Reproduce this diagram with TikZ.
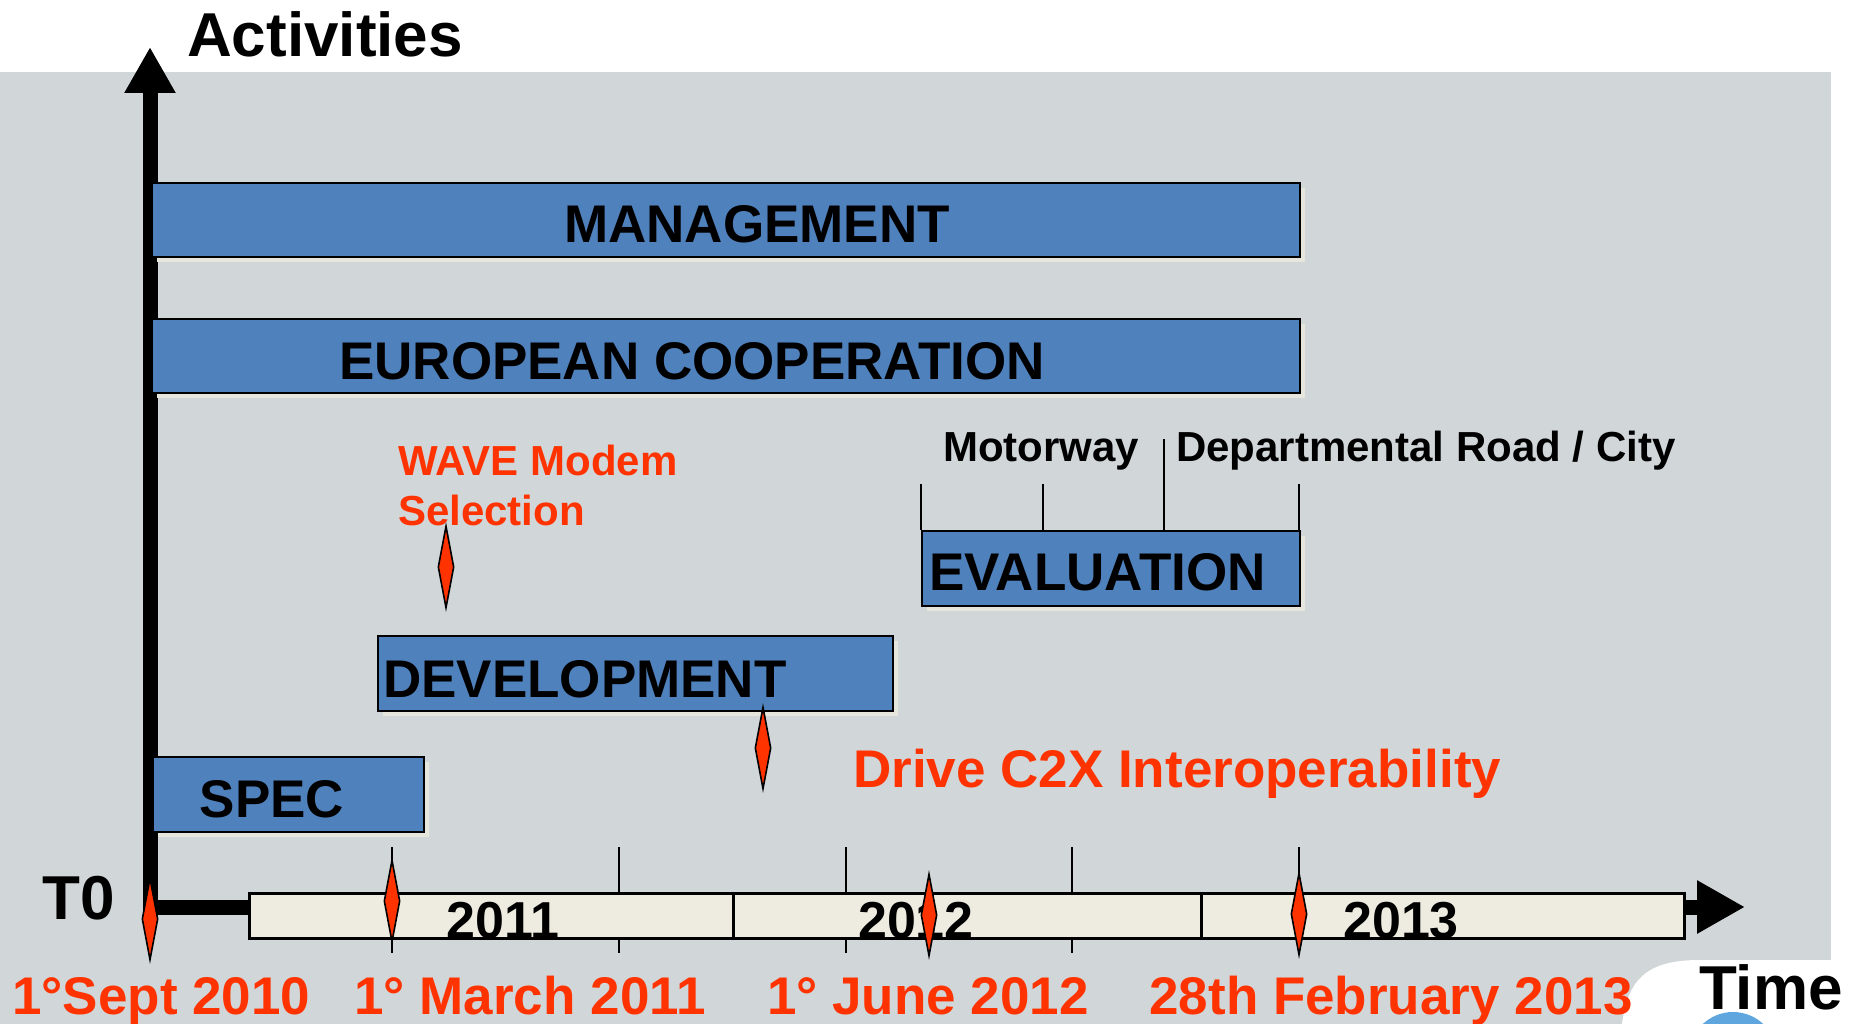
\documentclass[tikz,border=0pt]{standalone}
\usepackage{fontspec}
\setmainfont{Liberation Sans}
\usepackage{tikz}
\usetikzlibrary{arrows.meta,shapes.geometric,shadows}
\definecolor{panelGray}{RGB}{209,214,217}
\definecolor{barBlue}{RGB}{79,129,189}
\definecolor{milestoneRed}{RGB}{255,51,0}
\definecolor{yearCream}{RGB}{238,236,225}
\definecolor{shadowTint}{RGB}{230,230,220}
\definecolor{globeBlue}{RGB}{96,166,222}
\newcommand\barfont{\bfseries\fontsize{53}{60}\selectfont}
\newcommand\yearfont{\bfseries\fontsize{52}{60}\selectfont}
\newcommand\notefont{\bfseries\fontsize{42}{50}\selectfont}
\newcommand\axisfont{\bfseries\fontsize{62}{70}\selectfont}
\tikzset{
  activity bar/.style={draw=black,line width=2pt,fill=barBlue,anchor=north west,inner sep=0pt,
    drop shadow={shadow xshift=5pt,shadow yshift=-5pt,fill=shadowTint,opacity=1}},
  year cell/.style={draw=black,line width=2.5pt,fill=yearCream,anchor=north west,inner sep=0pt,minimum height=45pt},
  milestone/.style={diamond,draw=black,line width=1.6pt,fill=milestoneRed,inner sep=0pt,minimum width=16pt,minimum height=82pt},
  axis line/.style={line width=15pt,line join=miter,draw=black,
    {Triangle[length=46pt,width=48pt]}-{Triangle[length=48pt,width=50pt]}},
  tick line/.style={line width=2pt,draw=black},
  bar text/.style={inner sep=0pt,font=\barfont,text=black},
  year text/.style={inner sep=0pt,font=\yearfont,text=black},
  date text/.style={inner sep=0pt,font=\barfont,text=milestoneRed},
  note text/.style={inner sep=0pt,font=\notefont,text=black},
  axis text/.style={inner sep=0pt,font=\axisfont,text=black}
}
\begin{document}
\begin{tikzpicture}[x=1pt,y=-1pt]
  \useasboundingbox (0,0) rectangle (1852,1024);
  % backdrop
  \fill[panelGray] (0,72) rectangle (1831,1024);
  \fill[white] (1622,1024) .. controls (1628,978) and (1648,960) .. (1700,960) -- (1852,960) -- (1852,1024) -- cycle;
  \begin{scope}
    \clip (0,0) rectangle (1852,1024);
    \fill[globeBlue] (1733,1056) circle[radius=44];
  \end{scope}

  \foreach \tx in {392,619,846,1072,1299}
    \draw[tick line] (\tx,847) -- (\tx,953);
  \draw[axis line] (150,47) -- (150,907) -- (1745,907);

  \node[activity bar,minimum width=1148pt,minimum height=74pt] (mgmt) at (151,182) {};
  \node[activity bar,minimum width=1148pt,minimum height=74pt] (euro) at (151,318) {};
  \node[activity bar,minimum width=378pt,minimum height=75pt] (eval) at (921,530) {};
  \node[activity bar,minimum width=515pt,minimum height=75pt] (dev) at (377,635) {};
  \node[activity bar,minimum width=271pt,minimum height=75pt] (spec) at (152,756) {};
  \node[bar text,anchor=base] (mgmtLabel) at (757,243) {MANAGEMENT};
  \node[bar text,anchor=base] (euroLabel) at (692,379) {EUROPEAN COOPERATION};
  \node[bar text,anchor=base west] (evalLabel) at (929,590) {EVALUATION};
  \node[bar text,anchor=base west] (devLabel) at (383,697) {DEVELOPMENT};
  \node[bar text,anchor=base] (specLabel) at (272,817) {SPEC};

  \foreach \bx/\btop in {921/484,1043/484,1164/439,1299/484}
    \draw[tick line] (\bx,\btop) -- (\bx,530);
  \node[note text,anchor=base west] (motorway) at (943,461) {Motorway};
  \node[note text,anchor=base west] (cityRoad) at (1176,461) {Departmental Road / City};

  \node[year cell,minimum width=484pt] (cell2011) at (248,892) {};
  \node[year cell,minimum width=468pt] (cell2012) at (732,892) {};
  \node[year cell,minimum width=483pt] (cell2013) at (1200,892) {};
  \node[year text,anchor=base] (year2011) at (503,938) {2011};
  \node[year text,anchor=base] (year2012) at (916,938) {2012};
  \node[year text,anchor=base] (year2013) at (1401,938) {2013};

  \foreach \mx/\my/\mname in {150/919/t0,392/901/march,929/915/june,1299/914/feb,446/567/wave,763/748/drive}
    \node[milestone] (ms-\mname) at (\mx,\my) {};

  \node[note text,text=milestoneRed,anchor=base west,align=left] (waveNote) at (398,525) {WAVE Modem\\Selection};
  \node[date text,anchor=base west] (driveNote) at (853,787) {Drive C2X Interoperability};

  \node[date text,anchor=base west] (dateSept) at (12,1014) {1°Sept 2010};
  \node[date text,anchor=base] (dateMarch) at (530,1014) {1° March 2011};
  \node[date text,anchor=base] (dateJune) at (928,1014) {1° June 2012};
  \node[date text,anchor=base] (dateFeb) at (1391,1014) {28th February 2013};

  \node[axis text,anchor=base west] (activities) at (187,57) {Activities};
  \node[axis text,anchor=base west] (t0) at (42,919) {T0};
  \node[axis text,anchor=base west] (time) at (1699,1009) {Time};
\end{tikzpicture}
\end{document}
